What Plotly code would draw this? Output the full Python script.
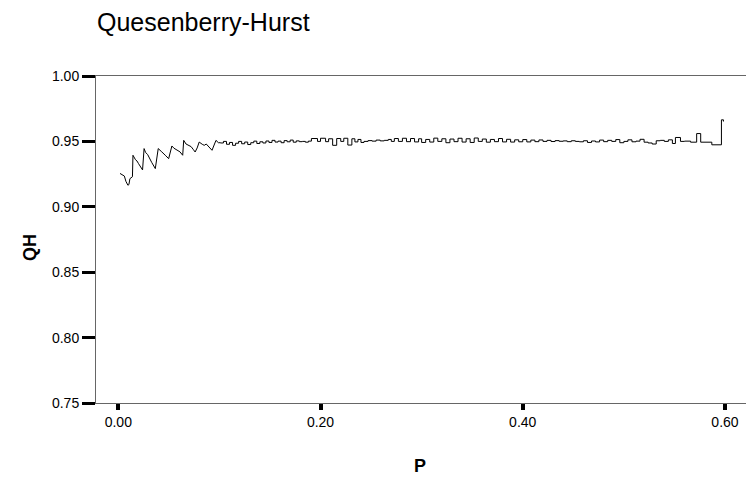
import plotly.graph_objects as go

# ---- data ----
# early part: sawtooth coverage, drawn with straight segments
p_early = [
    0.0017, 0.0050, 0.0060, 0.0075, 0.0095, 0.0105, 0.0115, 0.0140, 0.0145, 0.0170,
    0.0185, 0.0200, 0.0240, 0.0255, 0.0270, 0.0290, 0.0310, 0.0330, 0.0366, 0.0395,
    0.0430, 0.0450, 0.0470, 0.0498, 0.0530, 0.0550, 0.0570, 0.0610, 0.0637, 0.0647,
    0.0670, 0.0690, 0.0720, 0.0740, 0.0760, 0.0780, 0.0800, 0.0830, 0.0850, 0.0870,
    0.0890, 0.0927, 0.0966, 0.0990,
]
qh_early = [
    0.9255, 0.9240, 0.9235, 0.9195, 0.9165, 0.9170, 0.9215, 0.9230, 0.9394, 0.9360,
    0.9350, 0.9330, 0.9282, 0.9445, 0.9415, 0.9400, 0.9375, 0.9340, 0.9292, 0.9445,
    0.9420, 0.9408, 0.9390, 0.9368, 0.9465, 0.9448, 0.9440, 0.9420, 0.9394, 0.9508,
    0.9480, 0.9470, 0.9460, 0.9440, 0.9419, 0.9450, 0.9495, 0.9478, 0.9470, 0.9480,
    0.9460, 0.9432, 0.9508, 0.9490,
]
# later part: step function around 0.95
p_late = [
    0.099, 0.101, 0.104, 0.107, 0.110, 0.113, 0.116, 0.119, 0.122, 0.125, 0.128,
    0.131, 0.134, 0.137, 0.140,
    0.143, 0.146, 0.149, 0.152, 0.155, 0.158, 0.161, 0.164, 0.167, 0.170,
    0.173, 0.176, 0.179, 0.182, 0.185, 0.188,
    0.191, 0.197, 0.200, 0.205, 0.208, 0.212, 0.216, 0.220, 0.223, 0.227,
    0.231, 0.234, 0.237, 0.240,
    0.243, 0.247, 0.251, 0.255, 0.259, 0.263, 0.267, 0.270,
    0.273, 0.277, 0.281, 0.285, 0.289, 0.293, 0.297, 0.300,
    0.304, 0.308, 0.312, 0.316, 0.320, 0.324, 0.328, 0.332, 0.336, 0.340,
    0.344, 0.348, 0.352, 0.356, 0.360, 0.364, 0.368, 0.372, 0.376, 0.380,
    0.384, 0.388, 0.392, 0.396, 0.400, 0.404, 0.408, 0.412, 0.416, 0.420,
    0.424, 0.428, 0.432, 0.436, 0.440, 0.444, 0.448, 0.452, 0.456,
    0.460, 0.464, 0.468, 0.472, 0.476, 0.480, 0.484, 0.488, 0.492, 0.496,
    0.500, 0.504, 0.508, 0.512, 0.516, 0.520, 0.524, 0.528, 0.532, 0.536,
    0.540, 0.544, 0.548, 0.551, 0.556, 0.560, 0.566, 0.572, 0.576, 0.587,
    0.5965, 0.5985,
]
qh_late = [
    0.9490, 0.9488, 0.9500, 0.9478, 0.9492, 0.9470, 0.9486, 0.9500, 0.9482, 0.9495, 0.9476,
    0.9490, 0.9502, 0.9484, 0.9497,
    0.9488, 0.9503, 0.9492, 0.9508, 0.9495, 0.9502, 0.9490, 0.9506, 0.9497, 0.9510,
    0.9494, 0.9504, 0.9498, 0.9500, 0.9494, 0.9502,
    0.9522, 0.9500, 0.9524, 0.9498, 0.9520, 0.9470, 0.9522, 0.9500, 0.9524, 0.9472,
    0.9520, 0.9496, 0.9515, 0.9492,
    0.9500, 0.9506, 0.9502, 0.9510, 0.9504, 0.9508, 0.9515, 0.9500,
    0.9522, 0.9500, 0.9524, 0.9498, 0.9522, 0.9496, 0.9520, 0.9492,
    0.9515, 0.9495, 0.9525, 0.9500, 0.9520, 0.9490, 0.9518, 0.9498, 0.9524, 0.9495,
    0.9520, 0.9492, 0.9526, 0.9500, 0.9518, 0.9494, 0.9515, 0.9498, 0.9522, 0.9496,
    0.9516, 0.9495, 0.9512, 0.9497, 0.9514, 0.9496, 0.9510, 0.9498, 0.9511, 0.9500,
    0.9508, 0.9499, 0.9506, 0.9501, 0.9504, 0.9498, 0.9505, 0.9500, 0.9497,
    0.9505, 0.9492, 0.9503, 0.9496, 0.9510, 0.9498, 0.9508, 0.9500, 0.9514, 0.9490,
    0.9500, 0.9512, 0.9497, 0.9502, 0.9516, 0.9494, 0.9488, 0.9480, 0.9505, 0.9508,
    0.9500, 0.9512, 0.9484, 0.9530, 0.9500, 0.9502, 0.9494, 0.9560, 0.9494, 0.9474,
    0.9665, 0.9652,
]
x_tick_vals = [0.0, 0.2, 0.4, 0.6]
x_tick_text = ["0.00", "0.20", "0.40", "0.60"]
y_tick_vals = [0.75, 0.80, 0.85, 0.90, 0.95, 1.00]
y_tick_text = ["0.75", "0.80", "0.85", "0.90", "0.95", "1.00"]

FONT = "Liberation Sans, Arial, sans-serif"

fig = go.Figure()
fig.add_trace(go.Scatter(
    x=p_early, y=qh_early, mode="lines",
    line=dict(color="black", width=1),
    showlegend=False, hoverinfo="x+y",
))
fig.add_trace(go.Scatter(
    x=p_late, y=qh_late, mode="lines",
    line=dict(color="black", width=1, shape="hv"),
    showlegend=False, hoverinfo="x+y",
))

fig.update_layout(
    width=746, height=481,
    margin=dict(l=96, r=0, t=76, b=78, autoexpand=False),
    paper_bgcolor="white", plot_bgcolor="white",
    font=dict(family=FONT, color="black", size=14),
    title=dict(text="Quesenberry-Hurst", x=97/746, xanchor="left",
               y=1 - 22/481, yanchor="middle", pad=dict(l=0, r=0, t=0, b=0),
               font=dict(family=FONT, size=25, color="black")),
    xaxis=dict(
        range=[-0.02205, 0.6208], tickvals=x_tick_vals, ticktext=x_tick_text,
        showgrid=False, zeroline=False, showline=True, linecolor="#666666",
        linewidth=1, mirror=True, ticks="outside", ticklen=6, tickwidth=3.5,
        tickcolor="black", tickfont=dict(size=14), automargin=False,
    ),
    yaxis=dict(
        range=[0.75, 1.00], tickvals=y_tick_vals, ticktext=y_tick_text,
        showgrid=False, zeroline=False, showline=True, linecolor="#666666",
        linewidth=1, mirror=False, ticks="outside", ticklen=13, tickwidth=3.3,
        tickcolor="black", tickfont=dict(size=14), automargin=False,
    ),
    annotations=[
        dict(text="<b>QH</b>", xref="paper", yref="paper",
             x=(30 - 96) / 650, y=(403 - 248) / 327, showarrow=False,
             textangle=-90, font=dict(family=FONT, size=18, color="black"),
             xanchor="center", yanchor="middle"),
        dict(text="<b>P</b>", xref="paper", yref="paper",
             x=(420 - 96) / 650, y=(403 - 466) / 327, showarrow=False,
             font=dict(family=FONT, size=18, color="black"),
             xanchor="center", yanchor="middle"),
    ],
)

fig.write_html("out.html",
               config={"displayModeBar": False},
               post_script="document.body.style.margin='0';"
                           "document.body.style.overflow='hidden';")
